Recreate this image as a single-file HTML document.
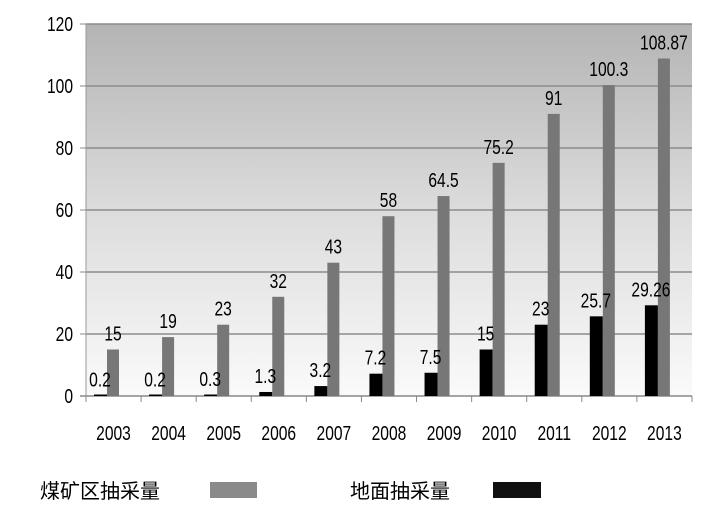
<!DOCTYPE html>
<html><head><meta charset="utf-8"><style>
html,body{margin:0;padding:0;background:#fff;}
svg text{font-family:"Liberation Sans","Noto Sans CJK SC",sans-serif;}
</style></head><body>
<svg id="c" width="728" height="512" xmlns="http://www.w3.org/2000/svg">
<defs><linearGradient id="bg" x1="0" y1="0" x2="0" y2="1">
<stop offset="0" stop-color="#b4b4b4"/><stop offset="0.5" stop-color="#dcdcdc"/><stop offset="1" stop-color="#fafafa"/></linearGradient></defs>
<rect x="86" y="24" width="606" height="372" fill="url(#bg)"/>
<g id="g"></g>
<text x="40" y="498" font-size="20" font-family="'Noto Sans CJK SC',sans-serif">煤矿区抽采量</text>
<rect x="210" y="482" width="47" height="16" fill="#8a8a8a"/>
<text x="350" y="498" font-size="20" font-family="'Noto Sans CJK SC',sans-serif">地面抽采量</text>
<rect x="493" y="482" width="48" height="16" fill="#111"/>
</svg>
<script>
var g=document.getElementById('g'),s='';
var yrs=[2003,2004,2005,2006,2007,2008,2009,2010,2011,2012,2013];
var gray=[15,19,23,32,43,58,64.5,75.2,91,100.3,108.87];
var blk=[0.2,0.2,0.3,1.3,3.2,7.2,7.5,15,23,25.7,29.26];
var gl=["15","19","23","32","43","58","64.5","75.2","91","100.3","108.87"];
var bl=["0.2","0.2","0.3","1.3","3.2","7.2","7.5","15","23","25.7","29.26"];
function Y(v){return 396-v*3.1;}
function T(x,y,t,a){return '<text transform="translate('+x+','+y+') scale(0.78,1)" font-size="20" text-anchor="'+(a||'middle')+'">'+t+'</text>';}
for(var i=1;i<=6;i++){var y=396-i*62;s+='<line x1="86" x2="692" y1="'+y+'" y2="'+y+'" stroke="#8c8c8c" stroke-width="1.5"/>';}
s+='<line x1="86" x2="86" y1="24" y2="396" stroke="#999"/>';
s+='<line x1="80" x2="692" y1="396" y2="396" stroke="#888" stroke-width="1.5"/>';
for(var i=0;i<=6;i++){var y=396-i*62;s+='<line x1="80" x2="86" y1="'+y+'" y2="'+y+'" stroke="#888"/>';
s+=T(73,y+7,i*20,'end');}
for(var i=0;i<11;i++){var x0=86+i*55.09;
s+='<line x1="'+x0+'" x2="'+x0+'" y1="396" y2="402" stroke="#888"/>';
var bh=Math.max(blk[i]*3.1,1.5);
s+='<rect x="'+(x0+8)+'" y="'+(396-bh)+'" width="13" height="'+bh+'" fill="#000"/>';
s+='<rect x="'+(x0+21)+'" y="'+Y(gray[i])+'" width="12" height="'+(gray[i]*3.1)+'" fill="#777"/>';
s+=T(x0+27,Y(gray[i])-9,gl[i]);
s+=T(x0+14,Y(blk[i])-9,bl[i]);
s+=T(x0+27.5,440,yrs[i]);}
s+='<line x1="692" x2="692" y1="396" y2="402" stroke="#888"/>';
g.innerHTML=s;
</script>
</body></html>
